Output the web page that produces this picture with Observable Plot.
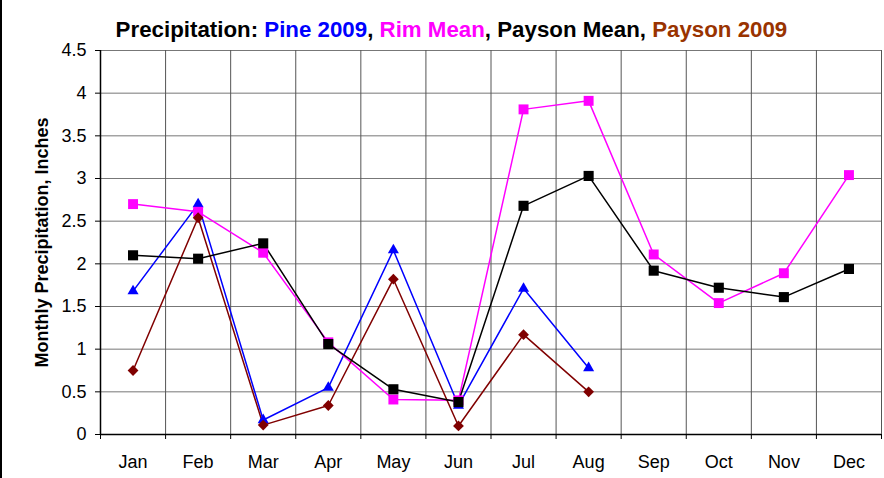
<!DOCTYPE html>
<html>
<head>
<meta charset="utf-8">
<script src="https://cdn.jsdelivr.net/npm/d3@7"></script>
<script src="https://cdn.jsdelivr.net/npm/@observablehq/plot@0.6"></script>
<style>
  html, body { margin: 0; padding: 0; background: white; }
  #wrap { position: relative; width: 884px; height: 478px; overflow: hidden; font-family: "Liberation Sans", Arial, sans-serif; }
  #border { position: absolute; left: 0; top: 0; width: 2px; height: 478px; background: black; }
  #title { box-sizing: border-box; height: 40px; padding-top: 18.5px; padding-left: 115.6px; font-size: 22.3px; line-height: 22px; font-weight: bold; white-space: nowrap; color: black; }
</style>
</head>
<body>
<div id="wrap">
  <div id="title">Precipitation: <span style="color:#0000ff">Pine 2009</span>, <span style="color:#ff00ff">Rim Mean</span>, Payson Mean, <span style="color:#993300">Payson 2009</span></div>
  <div id="chart"></div>
  <div id="border"></div>
</div>
<script>
const months = ["Jan","Feb","Mar","Apr","May","Jun","Jul","Aug","Sep","Oct","Nov","Dec"];
const pine2009 = [1.68, 2.70, 0.17, 0.55, 2.16, 0.34, 1.71, 0.78];
const rimMean = [2.70, 2.61, 2.13, 1.08, 0.41, 0.40, 3.81, 3.91, 2.11, 1.54, 1.89, 3.04];
const paysonMean = [2.10, 2.06, 2.24, 1.06, 0.53, 0.38, 2.68, 3.03, 1.92, 1.72, 1.61, 1.94];
const payson2009 = [0.75, 2.54, 0.11, 0.34, 1.82, 0.10, 1.17, 0.50];
const yTicks = [0, 0.5, 1, 1.5, 2, 2.5, 3, 3.5, 4, 4.5];
const yLabel = "Monthly Precipitation, Inches";

const toRows = arr => arr.map((v, i) => ({m: i + 1, v}));
const monthIdx = months.map((_, i) => i + 1);
const bounds = d3.range(0, months.length + 1).map(i => i + 0.5);

const series = [
  {rows: toRows(pine2009), color: "#0000ff", symbol: "triangle", r: 4.1, rotate: 0},
  {rows: toRows(rimMean), color: "#ff00ff", symbol: "square", r: 5.6, rotate: 0},
  {rows: toRows(payson2009), color: "#800000", symbol: "square", r: 4.3, rotate: 45},
  {rows: toRows(paysonMean), color: "#000000", symbol: "square", r: 5.7, rotate: 0}
];

const marks = [
  Plot.gridY(yTicks, {stroke: "#777", strokeOpacity: 1, strokeWidth: 1}),
  Plot.gridX(bounds, {stroke: "#555", strokeOpacity: 1, strokeWidth: 1}),
  Plot.axisY(yTicks, {tickSize: 5, tickPadding: 9, tickFormat: d => String(d), label: null, fontSize: 18}),
  Plot.axisX(bounds, {tickSize: 5, tickFormat: () => "", label: null}),
  Plot.axisX(monthIdx, {tickSize: 0, tickPadding: 21, tickFormat: i => months[i - 1], label: null, fontSize: 18}),
  Plot.ruleY([0], {stroke: "black", strokeWidth: 1.5}),
  Plot.ruleX([0.5], {stroke: "black", strokeWidth: 1.5}),
  Plot.text([yLabel], {frameAnchor: "left", textAnchor: "middle", dx: -58, rotate: -90, fontWeight: "bold", fontSize: 18, text: d => d, fill: "black"})
];
for (const s of series) {
  marks.push(Plot.line(s.rows, {x: "m", y: "v", stroke: s.color, strokeWidth: 1.5}));
}
for (const s of series) {
  marks.push(Plot.dot(s.rows, {x: "m", y: "v", fill: s.color, stroke: "none", symbol: s.symbol, r: s.r, rotate: s.rotate}));
}

const chart = Plot.plot({
  width: 884,
  height: 438,
  marginLeft: 100,
  marginRight: 3,
  marginTop: 10,
  marginBottom: 44,
  x: {type: "linear", domain: [0.5, 12.5]},
  y: {domain: [0, 4.5]},
  style: {fontFamily: "'Liberation Sans', Arial, sans-serif", fontSize: "18px", color: "black", background: "white", overflow: "visible"},
  marks
});
document.getElementById("chart").appendChild(chart);
</script>
</body>
</html>
